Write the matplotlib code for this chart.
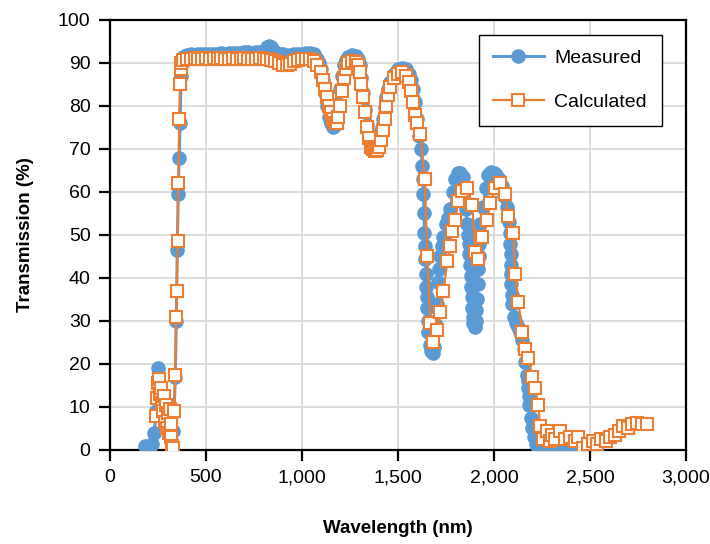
import matplotlib
matplotlib.use("Agg")
import matplotlib.pyplot as plt
from matplotlib.ticker import FuncFormatter, MultipleLocator

plt.rcParams["font.family"] = ["Liberation Sans", "DejaVu Sans"]

# Measured spectrum (wavelength in nm, transmission in %)
meas_wl = [
    180, 190, 200, 210, 220, 230, 240, 250, 260, 270, 280, 290, 300, 310, 320, 330,
    340, 345, 350, 355, 360, 365, 370, 375, 380, 390, 400, 420, 440, 460, 480, 500,
    520, 540, 560, 580, 600, 620, 640, 660, 680, 700, 720, 740, 760, 780, 800, 820,
    830, 840, 860, 880, 900, 920, 940, 960, 980, 1000, 1020, 1040, 1060, 1080, 1090,
    1100, 1110, 1120, 1130, 1140, 1150, 1160, 1170, 1180, 1190, 1200, 1210, 1220,
    1230, 1240, 1260, 1280, 1290, 1300, 1310, 1320, 1330, 1340, 1350, 1360, 1370,
    1380, 1390, 1400, 1410, 1420, 1430, 1440, 1450, 1460, 1480, 1500, 1520, 1540,
    1560, 1570, 1580, 1590, 1600, 1610, 1620, 1627, 1630, 1633, 1636, 1638, 1641,
    1643, 1646, 1648, 1651, 1653, 1656, 1659, 1665, 1672, 1680, 1690, 1700, 1705,
    1710, 1715, 1721, 1729, 1737, 1750, 1760, 1773, 1786, 1799, 1812, 1825, 1838,
    1846, 1853, 1861, 1865, 1868, 1872, 1875, 1878, 1880, 1884, 1887, 1890, 1893,
    1900, 1906, 1909, 1912, 1915, 1918, 1921, 1924, 1930, 1945, 1958, 1971, 1985,
    1998, 2010, 2025, 2040, 2055, 2070, 2080, 2083, 2085, 2087, 2088, 2089, 2090,
    2093, 2095, 2105, 2115, 2127, 2137, 2148, 2155, 2163, 2170, 2175, 2179, 2182,
    2185, 2192, 2200, 2210, 2220, 2230, 2250, 2270, 2290, 2310, 2330, 2350, 2370,
    2390,
]
meas_t = [
    1.0, 0.5, 0.3, 0.6, 1.5, 4.0, 9.0, 19.0, 13.0, 10.0, 8.5, 6.0, 5.0, 7.0, 8.0, 4.5,
    17.0, 30.0, 46.5, 59.5, 68.0, 76.0, 87.0, 90.0, 91.3, 91.6, 91.8, 92.0, 91.9, 92.0, 92.1, 92.1,
    92.2, 92.2, 92.2, 92.3, 92.2, 92.3, 92.4, 92.4, 92.4, 92.5, 92.5, 92.4, 92.5, 92.6, 92.8, 93.6,
    94.0, 93.6, 92.6, 92.2, 92.0, 91.7, 91.8, 92.0, 92.2, 92.2, 92.3, 92.3, 92.0, 91.0, 90.0,
    88.5, 86.0, 83.0, 80.0, 77.5, 76.0, 75.0, 75.5, 77.5, 80.5, 84.0, 87.0, 89.5,
    90.8, 91.5, 91.8, 91.7, 91.0, 89.5, 86.5, 83.0, 79.0, 75.5, 72.5, 70.8, 70.0,
    70.2, 71.0, 72.5, 74.5, 77.0, 79.5, 82.0, 84.0, 85.5, 87.5, 88.5, 88.8, 88.5,
    87.5, 86.0, 84.0, 81.0, 77.0, 73.0, 70.0, 66.0, 63.0, 59.5, 55.0, 50.5, 47.5,
    44.5, 41.0, 38.0, 35.5, 33.0, 30.0, 27.5, 24.5, 23.0, 22.5, 24.0, 29.0, 34.0,
    39.0, 42.0, 45.0, 47.5, 49.5, 52.5, 54.0, 56.0, 60.0, 63.0, 64.3, 64.5, 63.5,
    60.0, 56.0, 52.5, 50.0, 48.0, 45.5, 43.0, 40.5, 38.0, 35.5, 33.0, 31.0, 29.5,
    28.5, 30.0, 32.5, 35.0, 38.5, 42.0, 45.0, 48.0, 52.5, 56.5, 61.0, 64.0, 64.7,
    64.5, 64.0, 63.0, 61.5, 59.0, 56.5, 53.0, 50.5, 48.0, 45.5, 43.0, 41.0, 38.5,
    36.0, 34.0, 31.0, 29.5, 28.5, 27.5, 25.5, 23.5, 20.5, 17.5, 16.0, 14.5, 12.5,
    10.5, 7.5, 5.0, 3.0, 1.5, 0.5, 0.2, 0.3, 0.4, 0.3, 0.5, 0.4, 0.6,
    0.5,
]

# Calculated spectrum
calc_wl = [
    240, 245, 250, 255, 260, 265, 270, 275, 280, 285, 290, 295, 300, 305, 310, 315,
    320, 325, 330, 335, 340, 344, 348, 352, 356, 360, 364, 368, 372, 380, 400, 420,
    440, 460, 480, 500, 520, 540, 560, 580, 600, 620, 640, 660, 680, 700, 720, 740,
    760, 780, 800, 820, 840, 860, 880, 900, 920, 940, 960, 980, 1000, 1020, 1040,
    1060, 1080, 1100, 1110, 1120, 1130, 1140, 1150, 1160, 1170, 1180, 1190, 1200,
    1210, 1220, 1230, 1240, 1260, 1280, 1290, 1300, 1310, 1320, 1330, 1340, 1350,
    1360, 1370, 1380, 1390, 1400, 1410, 1420, 1430, 1440, 1450, 1460, 1480, 1500,
    1520, 1540, 1560, 1570, 1580, 1590, 1600, 1617, 1640, 1653, 1669, 1685, 1705,
    1720, 1737, 1758, 1773, 1784, 1799, 1815, 1836, 1861, 1887, 1903, 1919, 1940,
    1966, 1981, 2007, 2033, 2059, 2075, 2101, 2111, 2127, 2148, 2163, 2179, 2200,
    2215, 2231, 2241, 2257, 2275, 2290, 2305, 2320, 2345, 2370, 2395, 2420, 2440,
    2465, 2490, 2515, 2538, 2560, 2585, 2605, 2630, 2650, 2673, 2700, 2720, 2746,
    2770, 2795,
]
calc_t = [
    8.0, 12.0, 15.5, 16.5, 13.0, 14.5, 11.0, 9.0, 12.5, 6.5, 10.5, 5.0, 8.5, 4.0, 9.5, 3.0,
    6.0, 1.0, 0.5, 9.0, 17.5, 31.0, 37.0, 48.5, 62.0, 77.0, 85.0, 88.5, 90.0, 90.8, 91.0, 91.0,
    91.1, 91.0, 91.0, 91.1, 91.0, 91.1, 91.0, 91.1, 91.0, 91.0, 91.1, 91.0, 91.0, 91.1, 91.0, 91.0,
    91.0, 91.1, 91.0, 91.0, 90.8, 90.5, 90.0, 89.6, 89.5, 89.8, 90.5, 90.8, 90.9, 91.0, 91.0,
    90.5, 89.5, 88.0, 86.0, 84.0, 82.0, 80.0, 78.5, 77.0, 76.0, 76.0, 77.5, 80.0,
    83.5, 86.5, 88.5, 90.0, 90.5, 90.3, 89.5, 88.0, 85.0, 82.0, 78.5, 75.0, 72.5,
    70.5, 70.0, 69.5, 69.8, 70.5, 72.0, 74.5, 77.0, 80.0, 82.5, 84.5, 86.5, 87.5,
    87.8, 87.0, 85.5, 83.5, 81.0, 78.0, 76.0, 73.5, 63.0, 45.0, 29.5, 25.0, 28.0,
    32.0, 37.0, 44.0, 47.5, 51.0, 53.5, 58.0, 60.3, 61.0, 57.0, 46.0, 44.5, 49.5,
    53.5, 57.5, 61.0, 62.0, 59.5, 54.5, 50.5, 41.0, 34.5, 27.5, 23.5, 21.5, 17.0,
    14.5, 10.5, 5.5, 2.5, 4.5, 2.0, 3.5, 2.5, 4.5, 2.5, 3.0, 2.0, 3.0,
    0.5, 1.5, 2.0, 1.5, 2.5, 2.0, 3.0, 3.5, 4.5, 5.5, 5.0, 6.0, 6.2,
    6.0, 6.0,
]

BLUE = "#5B9BD5"
ORANGE = "#ED7D31"

fig = plt.figure(figsize=(7.1, 5.44), dpi=100)
ax = fig.add_axes([0.155, 0.1728, 0.811, 0.7905])

ax.plot(meas_wl, meas_t, color=BLUE, lw=2.2, marker="o", ms=9.5,
        mfc=BLUE, mec=BLUE, label="Measured", zorder=3)
ax.plot(calc_wl, calc_t, color=ORANGE, lw=1.6, marker="s", ms=8.5,
        mfc="white", mec=ORANGE, mew=1.5, label="Calculated", zorder=4)

ax.set_xlim(0, 3000)
ax.set_ylim(0, 100)
ax.xaxis.set_major_locator(MultipleLocator(500))
ax.yaxis.set_major_locator(MultipleLocator(10))
ax.xaxis.set_major_formatter(FuncFormatter(lambda v, p: f"{int(v):,}"))

ax.grid(True, color="#d9d9d9", lw=1.3)
ax.set_axisbelow(True)
for s in ax.spines.values():
    s.set_linewidth(1.6)
    s.set_color("black")
ax.tick_params(direction="out", length=8, width=1.6, labelsize=14, pad=6)

ax.set_xlabel("Wavelength (nm)", fontsize=13.5, fontweight="bold", labelpad=24)
ax.set_ylabel("Transmission (%)", fontsize=13.5, fontweight="bold", labelpad=17)

leg = ax.legend(loc="upper right", bbox_to_anchor=(0.958, 0.965), borderaxespad=0,
                fontsize=14, handlelength=2.6, handletextpad=0.55, labelspacing=1.35,
                borderpad=0.75, fancybox=False, framealpha=1)
leg.get_frame().set_edgecolor("black")
leg.get_frame().set_linewidth(1.0)

fig.savefig("out.png", dpi=100)
